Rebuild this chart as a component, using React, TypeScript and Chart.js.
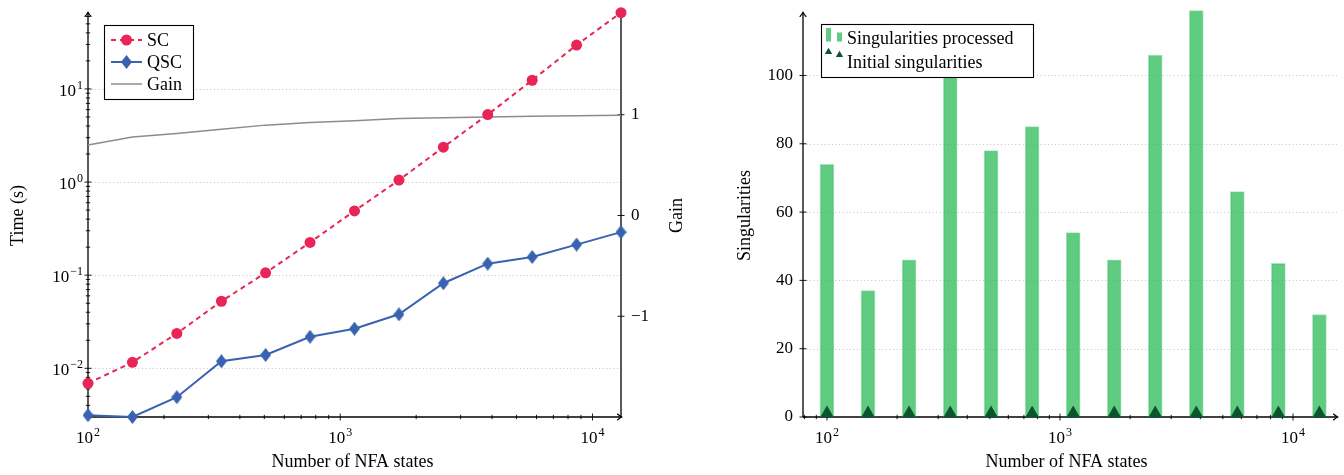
import { useEffect, useRef } from 'react';
import { Chart, registerables } from 'chart.js';

Chart.register(...registerables);

// Benchmark sizes (NFA states) and measured results
const nfaStates = [100, 150, 225, 338, 506, 759, 1139, 1709, 2563, 3844, 5767, 8650, 12975];
const scTime = [0.0069, 0.0116, 0.0237, 0.0525, 0.106, 0.225, 0.49, 1.05, 2.37, 5.3, 12.4, 29.6, 66];
const qscTime = [0.00314, 0.003, 0.0049, 0.0119, 0.0139, 0.0218, 0.0266, 0.038, 0.082, 0.133, 0.157, 0.213, 0.29];
const gain = [0.7, 0.78, 0.815, 0.856, 0.897, 0.922, 0.941, 0.963, 0.97, 0.978, 0.985, 0.99, 0.995];
const singularitiesProcessed = [74, 37, 46, 100, 78, 85, 54, 46, 106, 119, 66, 45, 30];
const initialSingularities = [1, 1, 1, 1, 1, 1, 1, 1, 1, 1, 1, 1, 1];

// Tick values and labels
const stateTicks = [100, 1000, 10000];
const stateTickExponents = ['2', '3', '4'];
const timeTicks = [10, 1, 0.1, 0.01];
const timeTickExponents = ['1', '0', '\u22121', '\u22122'];
const gainTicks = [1, 0, -1];
const gainTickLabels = ['1', '0', '\u22121'];
const singularityTicks = [0, 20, 40, 60, 80, 100];

const SERIF = '"Liberation Serif", "DejaVu Serif", serif';
const RED = 'rgb(232, 37, 86)';
const BLUE = 'rgb(57, 99, 176)';
const GRAY = 'rgb(140, 140, 140)';
const BAR_FILL = 'rgba(42, 187, 87, 0.75)';
const BAR_EDGE = 'rgba(42, 187, 87, 0.38)';
const DARK_GREEN = 'rgb(12, 84, 44)';

const TICK_SIZE = 17;
const TITLE_SIZE = 18;

type Ctx = CanvasRenderingContext2D;

const font = (size: number) => `${size}px ${SERIF}`;

function diamondImage(color: string, w: number, h: number) {
  const c = document.createElement('canvas');
  c.width = w;
  c.height = h;
  const g = c.getContext('2d')!;
  g.fillStyle = color;
  g.beginPath();
  g.moveTo(w / 2, 0);
  g.lineTo(w, h / 2);
  g.lineTo(w / 2, h);
  g.lineTo(0, h / 2);
  g.closePath();
  g.fill();
  return c;
}

function strokeLine(ctx: Ctx, x1: number, y1: number, x2: number, y2: number, width = 1.3, color = '#000') {
  ctx.save();
  ctx.strokeStyle = color;
  ctx.lineWidth = width;
  ctx.beginPath();
  ctx.moveTo(x1, y1);
  ctx.lineTo(x2, y2);
  ctx.stroke();
  ctx.restore();
}

function arrowHead(ctx: Ctx, x: number, y: number, dir: 'up' | 'right') {
  ctx.save();
  ctx.strokeStyle = '#000';
  ctx.lineWidth = 1.1;
  ctx.lineCap = 'round';
  ctx.lineJoin = 'round';
  ctx.beginPath();
  if (dir === 'up') {
    ctx.moveTo(x - 3, y + 4.5);
    ctx.quadraticCurveTo(x - 0.6, y + 2, x, y);
    ctx.quadraticCurveTo(x + 0.6, y + 2, x + 3, y + 4.5);
  } else {
    ctx.moveTo(x - 4.5, y - 3);
    ctx.quadraticCurveTo(x - 2, y - 0.6, x, y);
    ctx.quadraticCurveTo(x - 2, y + 0.6, x - 4.5, y + 3);
  }
  ctx.stroke();
  ctx.restore();
}

function dottedRule(ctx: Ctx, x1: number, x2: number, y: number) {
  ctx.save();
  ctx.strokeStyle = 'rgb(195, 195, 195)';
  ctx.lineWidth = 1;
  ctx.setLineDash([1, 2.6]);
  const yy = Math.round(y) + 0.5;
  ctx.beginPath();
  ctx.moveTo(x1, yy);
  ctx.lineTo(x2, yy);
  ctx.stroke();
  ctx.restore();
}

// Every 1..9 x 10^k step inside [min, max]; the 1 x 10^k ones are the major steps
function logSteps(min: number, max: number) {
  const out: { v: number; major: boolean }[] = [];
  for (let k = Math.floor(Math.log10(min)); k <= Math.ceil(Math.log10(max)); k++) {
    for (let m = 1; m <= 9; m++) {
      const v = m * Math.pow(10, k);
      if (v >= min * 0.999 && v <= max * 1.001) out.push({ v, major: m === 1 });
    }
  }
  return out;
}

function powerLabel(ctx: Ctx, exp: string, x: number, baseline: number, align: 'center' | 'right') {
  ctx.save();
  ctx.fillStyle = '#000';
  ctx.textAlign = 'left';
  ctx.textBaseline = 'alphabetic';
  ctx.font = font(TICK_SIZE);
  const wb = ctx.measureText('10').width;
  ctx.font = font(12);
  const we = ctx.measureText(exp).width;
  const total = wb + 1 + we;
  const x0 = align === 'center' ? x - total / 2 : x - total;
  ctx.font = font(TICK_SIZE);
  ctx.fillText('10', x0, baseline);
  ctx.font = font(12);
  ctx.fillText(exp, x0 + wb + 1, baseline - 7);
  ctx.restore();
}

function label(
  ctx: Ctx,
  s: string,
  x: number,
  y: number,
  align: CanvasTextAlign,
  baseline: CanvasTextBaseline,
  size: number,
  vertical = false,
) {
  ctx.save();
  ctx.fillStyle = '#000';
  ctx.font = font(size);
  ctx.textAlign = align;
  ctx.textBaseline = baseline;
  if (vertical) {
    ctx.translate(x, y);
    ctx.rotate(-Math.PI / 2);
    ctx.fillText(s, 0, 0);
  } else {
    ctx.fillText(s, x, y);
  }
  ctx.restore();
}

function legendFrame(ctx: Ctx, x: number, y: number, w: number, h: number) {
  ctx.save();
  ctx.fillStyle = '#fff';
  ctx.fillRect(x, y, w, h);
  ctx.strokeStyle = '#000';
  ctx.lineWidth = 1.1;
  ctx.strokeRect(x + 0.5, y + 0.5, w, h);
  ctx.restore();
}

function triangle(ctx: Ctx, x: number, y: number, r: number, color: string) {
  ctx.save();
  ctx.fillStyle = color;
  ctx.beginPath();
  ctx.moveTo(x, y - r);
  ctx.lineTo(x + r * 0.866, y + r / 2);
  ctx.lineTo(x - r * 0.866, y + r / 2);
  ctx.closePath();
  ctx.fill();
  ctx.restore();
}

const timeDecor = {
  id: 'timeDecor',
  beforeDatasetsDraw(chart: any) {
    const { ctx, chartArea: a, scales } = chart;
    const sx = scales.x;
    const sy = scales.y;
    const sg = scales.y1;

    for (const t of timeTicks) dottedRule(ctx, a.left, a.right, sy.getPixelForValue(t));

    // axis lines
    strokeLine(ctx, a.left, a.bottom, a.left, a.top - 1);
    arrowHead(ctx, a.left, a.top - 2, 'up');
    strokeLine(ctx, a.left, a.bottom, a.right, a.bottom);
    arrowHead(ctx, a.right + 1, a.bottom, 'right');
    strokeLine(ctx, a.right, a.bottom, a.right, a.top - 1);
    arrowHead(ctx, a.right, a.top - 2, 'up');

    // tick marks
    for (const s of logSteps(sx.min, sx.max)) {
      const px = sx.getPixelForValue(s.v);
      const h = s.major ? 3.5 : 2.2;
      strokeLine(ctx, px, a.bottom - h, px, a.bottom + h, 0.9);
    }
    for (const s of logSteps(sy.min, sy.max)) {
      const py = sy.getPixelForValue(s.v);
      const h = s.major ? 3.5 : 2.2;
      strokeLine(ctx, a.left - h, py, a.left + h, py, 0.9);
    }
    for (const t of gainTicks) {
      const py = sg.getPixelForValue(t);
      strokeLine(ctx, a.right - 3.5, py, a.right + 3.5, py, 0.9);
    }

    // tick labels
    stateTicks.forEach((t, i) => powerLabel(ctx, stateTickExponents[i], sx.getPixelForValue(t), 443, 'center'));
    timeTicks.forEach((t, i) => powerLabel(ctx, timeTickExponents[i], a.left - 5, sy.getPixelForValue(t) + 7, 'right'));
    gainTicks.forEach((t, i) => label(ctx, gainTickLabels[i], a.right + 10, sg.getPixelForValue(t), 'left', 'middle', TICK_SIZE));

    // axis titles
    label(ctx, 'Number of NFA states', (a.left + a.right) / 2 - 2, 467, 'center', 'alphabetic', TITLE_SIZE);
    label(ctx, 'Time (s)', 18, (a.top + a.bottom) / 2, 'center', 'middle', TITLE_SIZE, true);
    label(ctx, 'Gain', 677, (a.top + a.bottom) / 2, 'center', 'middle', TITLE_SIZE, true);
  },
  afterDraw(chart: any) {
    const { ctx } = chart;
    legendFrame(ctx, 104, 25, 89, 74);
    const rows = [40, 62, 84];
    const names = ['SC', 'QSC', 'Gain'];
    // SC sample
    ctx.save();
    ctx.strokeStyle = RED;
    ctx.lineWidth = 2;
    ctx.setLineDash([5, 4]);
    ctx.beginPath();
    ctx.moveTo(111, rows[0]);
    ctx.lineTo(142, rows[0]);
    ctx.stroke();
    ctx.restore();
    ctx.save();
    ctx.fillStyle = RED;
    ctx.beginPath();
    ctx.arc(126.5, rows[0], 5.5, 0, Math.PI * 2);
    ctx.fill();
    ctx.restore();
    // QSC sample
    strokeLine(ctx, 111, rows[1], 142, rows[1], 2, BLUE);
    ctx.save();
    ctx.fillStyle = BLUE;
    ctx.beginPath();
    ctx.moveTo(126.5, rows[1] - 7);
    ctx.lineTo(132, rows[1]);
    ctx.lineTo(126.5, rows[1] + 7);
    ctx.lineTo(121, rows[1]);
    ctx.closePath();
    ctx.fill();
    ctx.restore();
    // Gain sample
    strokeLine(ctx, 111, rows[2], 142, rows[2], 1.5, GRAY);
    names.forEach((n, i) => label(ctx, n, 147, rows[i] + 6, 'left', 'alphabetic', TITLE_SIZE));
  },
};

const singularityDecor = {
  id: 'singularityDecor',
  beforeDatasetsDraw(chart: any) {
    const { ctx, chartArea: a, scales } = chart;
    const sx = scales.x;
    const sy = scales.y;
    const right = a.right + 1;

    for (const t of singularityTicks) {
      if (t !== 0) dottedRule(ctx, a.left, right, sy.getPixelForValue(t));
    }

    strokeLine(ctx, a.left, a.bottom, a.left, a.top - 1);
    arrowHead(ctx, a.left, a.top - 2, 'up');
    strokeLine(ctx, a.left, a.bottom, right, a.bottom);
    arrowHead(ctx, right + 1, a.bottom, 'right');

    for (const s of logSteps(sx.min, sx.max)) {
      const px = sx.getPixelForValue(s.v);
      const h = s.major ? 3.5 : 2.2;
      strokeLine(ctx, px, a.bottom - h, px, a.bottom + h, 0.9);
    }
    for (const t of singularityTicks) {
      const py = sy.getPixelForValue(t);
      strokeLine(ctx, a.left - 3.5, py, a.left + 3.5, py, 0.9);
    }

    stateTicks.forEach((t, i) => powerLabel(ctx, stateTickExponents[i], sx.getPixelForValue(t), 443, 'center'));
    singularityTicks.forEach((t) => label(ctx, String(t), a.left - 10, sy.getPixelForValue(t), 'right', 'middle', TICK_SIZE));

    label(ctx, 'Number of NFA states', (a.left + a.right) / 2 - 3, 467, 'center', 'alphabetic', TITLE_SIZE);
    label(ctx, 'Singularities', 745 - 700, (a.top + a.bottom) / 2, 'center', 'middle', TITLE_SIZE, true);
  },
  afterDraw(chart: any) {
    const { ctx } = chart;
    const ox = -700;
    legendFrame(ctx, 821 + ox, 24, 212, 53);
    ctx.save();
    ctx.fillStyle = BAR_FILL;
    ctx.fillRect(826 + ox, 28, 5, 13.5);
    ctx.fillRect(837 + ox, 32.5, 5, 9);
    ctx.restore();
    triangle(ctx, 828.5 + ox, 52, 4.2, DARK_GREEN);
    triangle(ctx, 839.5 + ox, 55, 4.2, DARK_GREEN);
    label(ctx, 'Singularities processed', 847 + ox, 44, 'left', 'alphabetic', TITLE_SIZE);
    label(ctx, 'Initial singularities', 847 + ox, 68, 'left', 'alphabetic', TITLE_SIZE);
  },
};

function TimeChart() {
  const ref = useRef<HTMLCanvasElement>(null);
  useEffect(() => {
    const diamond = diamondImage(BLUE, 11, 14);
    const chart = new Chart(ref.current!, {
      type: 'line',
      data: {
        datasets: [
          {
            label: 'SC',
            data: nfaStates.map((x, i) => ({ x, y: scTime[i] })),
            yAxisID: 'y',
            borderColor: RED,
            backgroundColor: RED,
            borderWidth: 2,
            borderDash: [5, 4],
            pointStyle: 'circle',
            pointRadius: 5.5,
            pointBorderWidth: 0,
            clip: false,
          },
          {
            label: 'QSC',
            data: nfaStates.map((x, i) => ({ x, y: qscTime[i] })),
            yAxisID: 'y',
            borderColor: BLUE,
            backgroundColor: BLUE,
            borderWidth: 2,
            pointStyle: diamond,
            pointRadius: 7,
            clip: false,
          },
          {
            label: 'Gain',
            data: nfaStates.map((x, i) => ({ x, y: gain[i] })),
            yAxisID: 'y1',
            borderColor: GRAY,
            borderWidth: 1.5,
            pointRadius: 0,
            clip: false,
          },
        ],
      } as any,
      options: {
        responsive: false,
        animation: false,
        layout: { padding: { left: 88, right: 79, top: 14, bottom: 58 } },
        scales: {
          x: { type: 'logarithmic', min: 100, max: 12975, display: false },
          y: { type: 'logarithmic', min: 0.003, max: 63.8, display: false },
          y1: { type: 'linear', position: 'right', min: -2, max: 2, display: false },
        },
        plugins: { legend: { display: false }, tooltip: { enabled: false } },
      },
      plugins: [timeDecor],
    });
    return () => chart.destroy();
  }, []);
  return <canvas ref={ref} width={700} height={475} style={{ position: 'absolute', left: 0, top: 0 }} />;
}

function SingularityChart() {
  const ref = useRef<HTMLCanvasElement>(null);
  useEffect(() => {
    const chart = new Chart(ref.current!, {
      type: 'bar',
      data: {
        datasets: [
          {
            type: 'bar',
            label: 'Singularities processed',
            data: nfaStates.map((x, i) => ({ x, y: singularitiesProcessed[i] })),
            backgroundColor: BAR_FILL,
            borderColor: BAR_EDGE,
            borderWidth: 1,
            barThickness: 14,
            order: 2,
            clip: false,
          },
          {
            type: 'line',
            label: 'Initial singularities',
            data: nfaStates.map((x, i) => ({ x, y: initialSingularities[i] })),
            showLine: false,
            pointStyle: 'triangle',
            pointRadius: 8,
            pointBorderWidth: 0,
            backgroundColor: DARK_GREEN,
            borderColor: DARK_GREEN,
            order: 1,
            clip: false,
          },
        ],
      } as any,
      options: {
        responsive: false,
        animation: false,
        layout: { padding: { left: 103, right: 8, top: 14, bottom: 58 } },
        scales: {
          x: { type: 'logarithmic', min: 78.9, max: 15290, display: false },
          y: { type: 'linear', min: 0, max: 118, display: false },
        },
        plugins: { legend: { display: false }, tooltip: { enabled: false } },
      },
      plugins: [singularityDecor],
    });
    return () => chart.destroy();
  }, []);
  return <canvas ref={ref} width={644} height={475} style={{ position: 'absolute', left: 700, top: 0 }} />;
}

export default function App() {
  return (
    <div
      style={{
        position: 'absolute',
        left: 0,
        top: 0,
        width: 1344,
        height: 475,
        overflow: 'hidden',
        background: '#fff',
      }}
    >
      <TimeChart />
      <SingularityChart />
    </div>
  );
}
